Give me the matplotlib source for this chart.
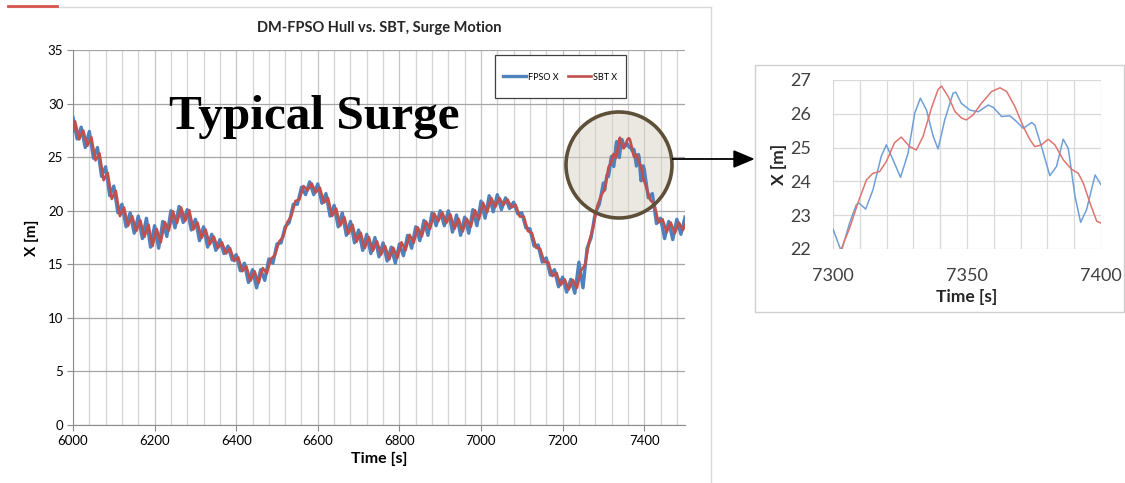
import matplotlib
matplotlib.use("Agg")
import matplotlib.pyplot as plt
from matplotlib.patches import Ellipse, Rectangle
from matplotlib.lines import Line2D
from matplotlib.ticker import MultipleLocator
import numpy as np

plt.rcParams['font.family'] = ['Lato', 'DejaVu Sans']

# ── data ──────────────────────────────────────────────────────────────────
# FPSO X, 10 s samples 6000..7290
fpso_t_a = np.arange(6000, 7300, 10)
fpso_x_a = [28.7, 26.7, 27.8, 25.9, 27.4, 24.9, 25.9, 23.2, 24.1, 21.4,
            22.3, 19.8, 20.6, 18.5, 19.8, 17.9, 19.5, 17.4, 19.3, 16.6,
            18.6, 16.5, 19.0, 17.6, 20.0, 18.4, 20.4, 18.9, 20.1, 18.2,
            19.2, 17.2, 18.5, 16.6, 17.8, 16.3, 17.3, 16.0, 16.7, 15.4,
            15.9, 14.4, 15.1, 13.3, 14.5, 12.8, 14.5, 13.5, 15.5, 15.1,
            16.9, 17.0, 18.5, 18.9, 20.6, 20.6, 22.2, 21.5, 22.7, 21.5,
            22.5, 20.7, 21.6, 19.5, 20.5, 18.5, 19.8, 17.7, 19.0, 17.0,
            18.2, 16.3, 17.8, 16.0, 17.5, 15.7, 17.0, 15.3, 16.6, 15.1,
            16.9, 15.8, 17.7, 16.5, 18.5, 17.2, 19.1, 17.7, 19.8, 18.6,
            20.0, 18.6, 20.0, 18.0, 19.6, 17.7, 19.4, 17.9, 20.1, 18.6,
            20.9, 19.3, 21.4, 19.9, 21.5, 20.1, 21.2, 20.2, 20.8, 19.7,
            19.8, 18.4, 18.3, 16.7, 16.8, 15.2, 15.6, 14.0, 14.5, 12.9,
            13.8, 12.4, 13.6, 12.3, 15.2, 12.8, 16.5, 17.5, 19.8, 20.6]
fpso_t_c = np.arange(7410, 7510, 10)
fpso_x_c = [21.2, 21.6, 18.8, 19.3, 17.4, 19.0, 17.3, 19.2, 17.8, 19.4]

# SBT X, 6000 then 10 s samples 6005..7295
sbt_t_a = np.concatenate([[6000], np.arange(6005, 7300, 10)])
sbt_x_a = [27.4,
           28.35, 26.65, 27.5, 26.05, 26.85, 24.7, 25.35, 22.85, 23.55, 21.1,
           21.85, 19.5, 20.3, 18.6, 19.5, 18.1, 19.1, 17.55, 18.7, 16.7,
           18.3, 17.05, 18.95, 18.15, 19.95, 18.85, 20.3, 19.05, 20.05, 18.25,
           18.9, 17.45, 18.25, 16.85, 17.6, 16.5, 17.05, 16.0, 16.5, 15.3,
           15.65, 14.35, 14.8, 13.45, 14.35, 13.25, 14.65, 14.15, 15.5, 15.85,
           17.1, 17.55, 18.9, 19.5, 20.9, 21.05, 22.3, 21.9, 22.55, 21.7,
           22.15, 20.75, 21.2, 19.5, 20.2, 18.6, 19.4, 17.85, 18.7, 17.1,
           17.95, 16.5, 17.55, 16.25, 17.15, 15.9, 16.7, 15.45, 16.55, 15.6,
           17.05, 16.3, 17.75, 17.0, 18.45, 17.6, 19.0, 18.3, 19.75, 19.0,
           19.85, 18.85, 19.65, 18.3, 19.25, 18.05, 19.25, 18.5, 20.05, 19.2,
           20.75, 19.85, 21.2, 20.35, 21.2, 20.55, 21.05, 20.3, 20.55, 19.45,
           19.45, 18.1, 17.9, 16.55, 16.45, 15.2, 15.2, 13.9, 14.2, 13.05,
           13.6, 12.65, 13.55, 12.8, 14.4, 14.95, 17.1, 18.45, 20.45, 21.45]
sbt_t_c = [7405, 7415, 7425, 7435, 7445, 7455, 7465, 7475, 7485, 7495, 7500]
sbt_x_c = [22.2, 21.0, 20.6, 18.9, 19.2, 18.0, 18.9, 17.9, 18.9, 18.2, 18.7]

# zoomed window 7300..7400
fpso_zoom_t = [7300, 7303.1, 7306.2, 7308.7, 7309.7, 7312.2, 7314.9, 7318, 7319.9, 7322.4,
               7325.2, 7328, 7330.5, 7332.6, 7334.9, 7337.4, 7339.2, 7341.7, 7344.8, 7345.8,
               7347.9, 7351.1, 7354.2, 7357.9, 7359.8, 7362.9, 7366, 7368.5, 7371, 7374.1,
               7375.3, 7377.8, 7380.9, 7383.4, 7385.9, 7387.8, 7390.3, 7392.4, 7394.6, 7397.8,
               7400]
fpso_zoom_x = [22.59, 21.93, 22.77, 23.31, 23.36, 23.18, 23.75, 24.74, 25.08, 24.64,
               24.12, 24.83, 26.02, 26.46, 26.11, 25.33, 24.96, 25.82, 26.61, 26.64,
               26.31, 26.11, 26.06, 26.26, 26.19, 25.92, 25.94, 25.77, 25.57, 25.74,
               25.67, 25.03, 24.17, 24.44, 25.25, 24.97, 23.56, 22.79, 23.16, 24.19,
               23.9]
sbt_zoom_t = [7303.1, 7306.2, 7309.3, 7312.5, 7314.9, 7317.4, 7319.9, 7323, 7325.5, 7328.6,
              7331.1, 7333.6, 7336.7, 7339.2, 7340.5, 7343, 7345.5, 7348, 7349.8, 7352.3,
              7355.4, 7359.2, 7362.3, 7364.8, 7367.9, 7371, 7373.5, 7375.3, 7377.8, 7380.3,
              7382.8, 7385.9, 7389, 7391.5, 7393.4, 7395.9, 7398.4, 7400]
sbt_zoom_x = [22.0, 22.62, 23.36, 24.05, 24.24, 24.29, 24.59, 25.15, 25.31, 25.03,
              24.93, 25.33, 26.16, 26.72, 26.82, 26.51, 26.07, 25.87, 25.82, 25.97,
              26.31, 26.66, 26.77, 26.66, 26.21, 25.62, 25.23, 25.03, 25.08, 25.25,
              25.08, 24.64, 24.36, 24.24, 23.95, 23.36, 22.82, 22.77]

fpso_t = np.concatenate([fpso_t_a, fpso_zoom_t, fpso_t_c])
fpso_x = np.concatenate([fpso_x_a, fpso_zoom_x, fpso_x_c])
sbt_t = np.concatenate([sbt_t_a, sbt_zoom_t, sbt_t_c])
sbt_x = np.concatenate([sbt_x_a, sbt_zoom_x, sbt_x_c])

W, H = 1125, 483
fig = plt.figure(figsize=(W / 100, H / 100), dpi=100)


def fx(px):
    return px / W


def fy(py):
    return 1 - py / H


# ── panel frame lines ────────────────────────────────────────────────────
fig.add_artist(Line2D([fx(8), fx(711)], [fy(7), fy(7)], color='#d9d9d9', lw=1))
fig.add_artist(Line2D([fx(711), fx(711)], [fy(7), 0], color='#d9d9d9', lw=1))
fig.add_artist(Line2D([fx(8), fx(57)], [fy(6), fy(6)], color='#d9534f', lw=2))

# ── main chart ───────────────────────────────────────────────────────────
ax = fig.add_axes([fx(73), fy(425), fx(685) - fx(73), fy(50) - fy(425)])
ax.plot(fpso_t, fpso_x, color='#4f81bd', lw=2.4, label='FPSO X', zorder=3)
ax.plot(sbt_t, sbt_x, color='#c0504d', lw=1.9, label='SBT X', zorder=4)
ax.set_xlim(6000, 7500)
ax.set_ylim(0, 35)
ax.xaxis.set_major_locator(MultipleLocator(200))
ax.xaxis.set_minor_locator(MultipleLocator(40))
ax.yaxis.set_major_locator(MultipleLocator(5))
ax.grid(True, which='major', axis='y', color='#a6a6a6', lw=0.9)
ax.grid(True, which='major', axis='x', color='#c4c4c4', lw=0.9)
ax.grid(True, which='minor', axis='x', color='#d4d4d4', lw=0.9)
ax.set_axisbelow(True)
for s in ['top', 'right']:
    ax.spines[s].set_visible(False)
for s in ['left', 'bottom']:
    ax.spines[s].set_color('#8c8c8c')
ax.tick_params(which='major', length=4, color='#8c8c8c', labelsize=9.5, pad=3)
ax.tick_params(which='minor', length=0)
ax.set_title('DM-FPSO Hull vs. SBT, Surge Motion', fontsize=10.5, fontweight='bold',
             color='#262626', pad=13)
ax.set_xlabel('Time [s]', fontsize=11.5, fontweight='bold', labelpad=4)
ax.set_ylabel('X [m]', fontsize=11, fontweight='bold', labelpad=6)

ax.text(fx(314), fy(117), 'Typical Surge', transform=fig.transFigure,
        family='Liberation Serif', fontweight='bold', fontsize=35.5,
        ha='center', va='center', color='black', zorder=5)

# legend box
ax.add_patch(Rectangle((fx(495), fy(98)), fx(626) - fx(495), fy(55) - fy(98),
                       transform=fig.transFigure, facecolor='white',
                       edgecolor='#404040', lw=0.9, zorder=5, clip_on=False))
leg = ax.legend(loc='center', bbox_to_anchor=(fx(560), fy(77)), bbox_transform=fig.transFigure,
                ncol=2, frameon=False, fontsize=6.5, handlelength=2.6, handletextpad=0.2,
                columnspacing=1.0)
leg.set_zorder(6)

# circle highlight
ax.add_patch(Ellipse((fx(619), fy(165)), fx(108), 108 / H, transform=fig.transFigure,
                     facecolor='#d8d2c6', alpha=0.5, edgecolor='none', zorder=2,
                     clip_on=False))
ax.add_patch(Ellipse((fx(619), fy(165)), fx(106), 106 / H, transform=fig.transFigure,
                     facecolor='none', edgecolor='#5e4f38', lw=2.6, zorder=5,
                     clip_on=False))

# arrow to zoom panel
fig.add_artist(Line2D([fx(673), fx(736)], [fy(159), fy(159)], color='black', lw=1.3))
fig.add_artist(plt.Polygon([[fx(734), fy(151)], [fx(753), fy(159)], [fx(734), fy(167)]],
                           closed=True, transform=fig.transFigure, color='black'))

# ── zoom panel ───────────────────────────────────────────────────────────
fig.add_artist(Rectangle((fx(755), fy(312)), fx(1124) - fx(755), fy(65) - fy(312),
                         transform=fig.transFigure, facecolor='white',
                         edgecolor='#d0d0d0', lw=1, zorder=0))
axz = fig.add_axes([fx(833), fy(249), fx(1101) - fx(833), fy(80) - fy(249)])
axz.plot(fpso_zoom_t, fpso_zoom_x, color='#6f9fd8', lw=1.1)
axz.plot(sbt_zoom_t, sbt_zoom_x, color='#e07470', lw=1.1)
axz.set_xlim(7300, 7400)
axz.set_ylim(22, 27)
axz.xaxis.set_major_locator(MultipleLocator(50))
axz.xaxis.set_minor_locator(MultipleLocator(10))
axz.yaxis.set_major_locator(MultipleLocator(1))
axz.grid(True, which='both', color='#d9d9d9', lw=0.9)
axz.set_axisbelow(True)
for s in axz.spines.values():
    s.set_visible(False)
axz.tick_params(which='both', length=0, labelsize=13, colors='#404040')
axz.tick_params(axis='y', pad=16)
axz.tick_params(axis='x', pad=14)
axz.set_xlabel('Time [s]', fontsize=12.5, fontweight='bold', color='#262626', labelpad=3)
axz.set_ylabel('X [m]', fontsize=12.5, fontweight='bold', color='#262626', labelpad=2)

fig.savefig('out.png', dpi=100)
